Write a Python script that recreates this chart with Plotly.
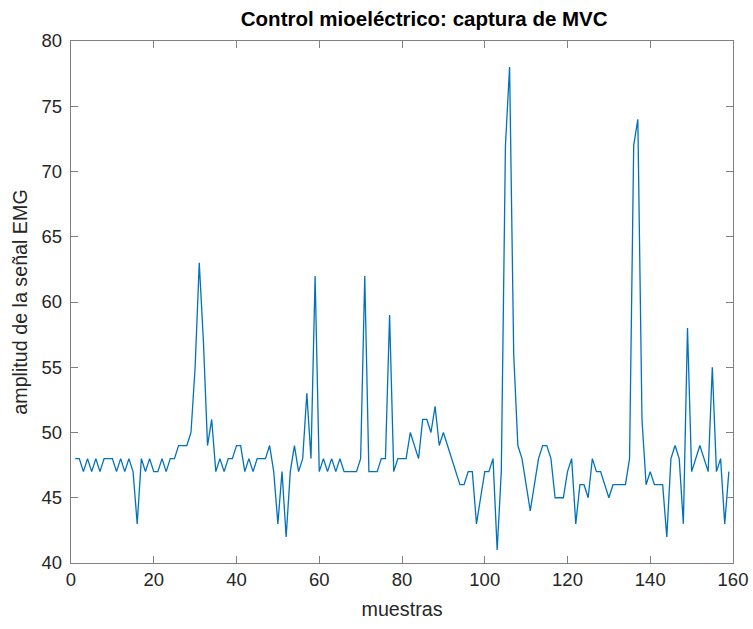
import plotly.graph_objects as go

# EMG amplitude samples
emg = [48, 48, 47, 48, 47, 48, 47, 48, 48, 48,
       47, 48, 47, 48, 47, 43, 48, 47, 48, 47,
       47, 48, 47, 48, 48, 49, 49, 49, 50, 55,
       63, 57, 49, 51, 47, 48, 47, 48, 48, 49,
       49, 47, 48, 47, 48, 48, 48, 49, 47, 43,
       47, 42, 47, 49, 47, 48, 53, 48, 62, 47,
       48, 47, 48, 47, 48, 47, 47, 47, 47, 48,
       62, 47, 47, 47, 48, 48, 59, 47, 48, 48,
       48, 50, 49, 48, 51, 51, 50, 52, 49, 50,
       49, 48, 47, 46, 46, 47, 47, 43, 45, 47,
       47, 48, 41, 47, 72, 78, 56, 49, 48, 46,
       44, 46, 48, 49, 49, 48, 45, 45, 45, 47,
       48, 43, 46, 46, 45, 48, 47, 47, 46, 45,
       46, 46, 46, 46, 48, 72, 74, 51, 46, 47,
       46, 46, 46, 42, 48, 49, 48, 43, 58, 47,
       48, 49, 48, 47, 55, 47, 48, 43, 47]
samples = list(range(1, len(emg) + 1))

x_ticks = [0, 20, 40, 60, 80, 100, 120, 140, 160]
y_ticks = [40, 45, 50, 55, 60, 65, 70, 75, 80]

title_text = "Control mioeléctrico: captura de MVC"
x_label = "muestras"
y_label = "amplitud de la señal EMG"

FONT = "Liberation Sans, Arial, Helvetica, sans-serif"
AX = "#808080"
TXT = "#262626"

fig = go.Figure()
fig.add_trace(go.Scatter(x=samples, y=emg, mode="lines",
                         line=dict(color="#0072BD", width=1.3),
                         hoverinfo="x+y", showlegend=False))

axis_common = dict(
    showline=True, linecolor=AX, linewidth=1.3, mirror="allticks",
    ticks="inside", ticklen=7, tickwidth=1.2, tickcolor=AX,
    showgrid=False, zeroline=False,
    tickfont=dict(family=FONT, size=18.5, color=TXT),
)

fig.update_layout(
    width=753, height=629,
    margin=dict(l=70.7, r=20.3, t=40.5, b=66.3, autoexpand=False),
    paper_bgcolor="white", plot_bgcolor="white",
    title=dict(text="<b>" + title_text + "</b>", x=0.5335, xref="paper",
               xanchor="center", y=1 - 19 / 629, yref="container", yanchor="middle",
               font=dict(family=FONT, size=20.5, color="#000000")),
    xaxis=dict(range=[0, 160], tickvals=x_ticks, ticktext=[str(v) for v in x_ticks],
               title=dict(text=x_label, standoff=12,
                          font=dict(family=FONT, size=19.7, color=TXT)),
               **axis_common),
    yaxis=dict(range=[40, 80], tickvals=y_ticks, ticktext=[str(v) for v in y_ticks],
               title=dict(text=y_label, standoff=8,
                          font=dict(family=FONT, size=19.7, color=TXT)),
               ticklabelstandoff=4,
               **axis_common),
)

fig.write_html("out.html", config={"displayModeBar": False},
               post_script="document.body.style.margin='0';document.body.style.overflow='hidden';")
